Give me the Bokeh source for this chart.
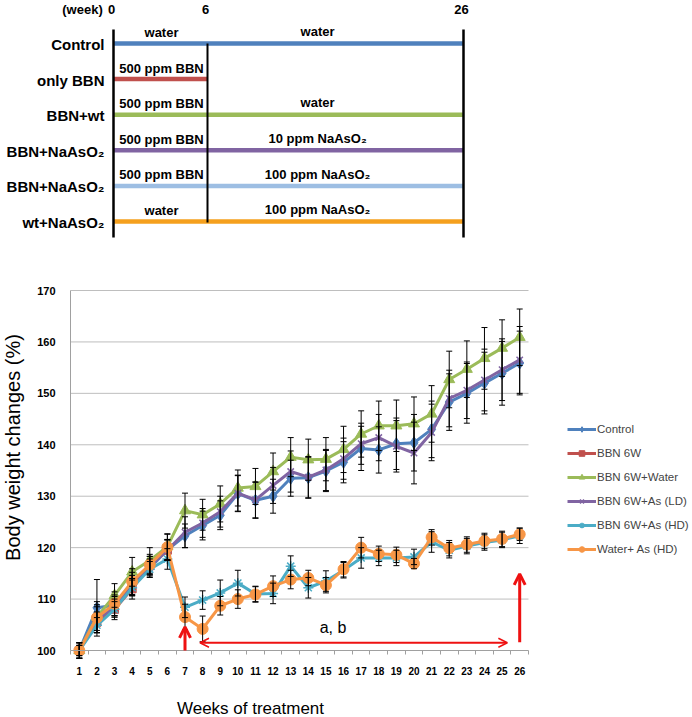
import math
from bokeh.plotting import figure
from bokeh.models import (Range1d, FixedTicker, ColumnDataSource, Whisker, TeeHead,
                          Arrow, OpenHead, Label, Legend, LegendItem)
from bokeh.core.properties import value
from bokeh.embed import file_html
from bokeh.resources import INLINE

# ---------------- data: study design schematic ----------------
groups = ["Control", "only BBN", "BBN+wt", "BBN+NaAsO\u2082", "BBN+NaAsO\u2082", "wt+NaAsO\u2082"]
group_colors = ["#4F81BD", "#C0504D", "#9BBB59", "#8064A2", "#9DBEE3", "#F5A01E"]
phase1_text = ["water", "500 ppm BBN", "500 ppm BBN", "500 ppm BBN", "500 ppm BBN", "water"]
phase2_text = ["water", "", "water", "10 ppm NaAsO\u2082", "100 ppm NaAsO\u2082", "100 ppm NaAsO\u2082"]
treat_end = [26, 6, 26, 26, 26, 26]
week_marks = [0, 6, 26]
week_mark_labels = ["0", "6", "26"]

# ---------------- data: body weight chart ----------------
weeks = list(range(1, 27))
week_labels = [str(w) for w in weeks]
y_ticks = [100, 110, 120, 130, 140, 150, 160, 170]

control = [100, 108.3, 108.8, 112.6, 116.0, 119.6, 122.3, 124.3, 126.3, 130.5, 129.2, 130.0, 133.5,
           133.6, 134.9, 136.6, 139.3, 139.0, 140.2, 140.4, 143.0, 148.3, 150.0, 152.0, 153.9, 155.9]
control_err = [1.5, 5.5, 2.0, 2.0, 1.8, 2.0, 2.3, 2.8, 2.8, 3.5, 3.5, 3.3, 3.5, 4.0, 4.0, 4.0, 4.3,
               4.5, 5.0, 5.5, 5.5, 5.5, 5.8, 6.0, 6.2, 6.2]
bbn6w = [100, 105.5, 108.0, 112.0, 116.5, 119.5]
bbn6w_err = [1.5, 2.0, 2.0, 2.0, 1.8, 2.0]
bbn_water = [100, 106.5, 110.7, 115.3, 117.5, 120.2, 127.2, 126.4, 128.5, 131.6, 131.9, 134.8, 137.6,
             137.1, 137.2, 139.1, 142.1, 143.7, 143.7, 144.1, 146.0, 152.7, 154.7, 156.8, 158.8, 160.9]
bbn_water_err = [1.5, 3.0, 2.3, 2.8, 2.5, 2.5, 3.4, 3.0, 3.5, 3.5, 3.5, 3.6, 3.8, 4.0, 4.2, 4.5, 4.5,
                 4.8, 5.0, 5.2, 5.5, 5.5, 5.5, 6.0, 5.5, 5.5]
bbn_as_ld = [100, 106.0, 108.5, 113.0, 116.5, 119.5, 123.0, 124.8, 127.0, 130.6, 129.3, 132.1, 134.8,
             133.7, 135.1, 137.3, 140.2, 141.4, 139.7, 138.4, 142.4, 149.0, 150.6, 152.6, 154.6, 156.5]
bbn_as_ld_err = [1.5, 2.5, 2.0, 2.2, 1.8, 2.0, 3.0, 2.8, 3.0, 3.5, 3.5, 3.5, 4.0, 4.0, 4.0, 4.0, 4.0,
                 4.5, 5.0, 6.0, 5.5, 5.5, 5.5, 6.0, 6.0, 6.5]
bbn_as_hd = [100, 104.9, 108.0, 112.2, 115.8, 117.8, 108.4, 109.8, 111.2, 113.1, 111.0, 111.1, 116.4,
             112.2, 113.5, 115.6, 118.0, 118.0, 118.0, 118.2, 121.1, 119.5, 120.3, 121.0, 121.5, 122.3]
bbn_as_hd_err = [1.0, 1.5, 1.5, 1.5, 1.5, 2.0, 2.0, 1.8, 2.5, 2.5, 1.5, 2.0, 2.0, 2.0, 2.0, 1.5, 2.0,
                 1.5, 1.5, 1.5, 2.0, 1.5, 1.5, 1.5, 1.5, 1.5]
water_as_hd = [100, 106.4, 109.1, 113.4, 116.7, 120.1, 106.5, 104.2, 108.7, 110.0, 110.9, 112.5, 113.8,
               114.1, 112.7, 115.8, 120.0, 118.8, 118.6, 116.9, 122.0, 119.9, 120.6, 121.3, 121.7, 122.6]
water_as_hd_err = [1.0, 2.5, 2.3, 2.5, 2.0, 2.5, 2.5, 2.5, 1.8, 1.8, 1.5, 2.0, 1.8, 1.5, 1.5, 1.5, 2.0,
                   1.5, 1.5, 1.0, 1.5, 1.5, 1.5, 1.5, 1.5, 1.2]

series_names = ["Control", "BBN 6W", "BBN 6W+Water", "BBN 6W+As (LD)", "BBN 6W+As (HD)", "Water+ As (HD)"]
series_values = [control, bbn6w, bbn_water, bbn_as_ld, bbn_as_hd, water_as_hd]
series_errors = [control_err, bbn6w_err, bbn_water_err, bbn_as_ld_err, bbn_as_hd_err, water_as_hd_err]
series_colors = ["#4F81BD", "#C0504D", "#9BBB59", "#8064A2", "#4BACC6", "#F79646"]
series_markers = ["diamond", "square", "triangle", "x", "asterisk", "circle"]
series_msize = [12, 8, 11, 9, 10, 11]

# arrows / annotation
mark_arrow_week = [7, 26]
mark_arrow_from = [100.0, 101.6]
mark_arrow_to = [104.6, 114.9]
span_arrow_weeks = [7.85, 25.3]
span_arrow_level = 101.5
span_text = "a, b"
span_text_pos = (15.4, 104.4)

SANS = "Liberation Sans"

# ---------------- top figure: schematic ----------------
def sx(w):
    # schematic (not to scale) position of a week on the time bar
    if w <= 6:
        return 113 + w * (207 - 113) / 6
    return 207 + (w - 6) * (463 - 207) / 20

ROW0, ROWH, TOPH = 43.0, 35.6, 245
top = figure(width=692, height=TOPH, x_range=Range1d(0, 692),
             y_range=Range1d((TOPH - ROW0) / ROWH, -ROW0 / ROWH),
             output_backend="svg", toolbar_location=None, min_border=0)
top.axis.visible = False
top.grid.visible = False
top.outline_line_color = None

rows = list(range(len(groups)))
top.segment(x0=[sx(0)] * len(rows), x1=[sx(e) for e in treat_end], y0=rows, y1=rows,
            line_color=group_colors, line_width=4.5)
top.segment(x0=[sx(0), sx(26)], x1=[sx(0), sx(26)], y0=[-0.39, -0.39], y1=[5.45, 5.45],
            line_color="black", line_width=2.5)
top.segment(x0=[sx(6)], x1=[sx(6)], y0=[0], y1=[5.03], line_color="black", line_width=2)

top.text(x=[sx(0) - 9] * len(rows), y=[r + 0.03 for r in rows], text=groups, text_align="right",
         text_baseline="middle", text_font=value(SANS), text_font_style="bold",
         text_font_size="15px", text_color="black")
p1x = [(sx(0) + sx(6)) / 2 + 1] * len(rows)
top.text(x=p1x, y=[r - 0.31 for r in rows], text=phase1_text, text_align="center",
         text_baseline="middle", text_font=value(SANS), text_font_style="bold",
         text_font_size="13px", text_color="black")
p2x = [sx(6) + 0.43 * (sx(26) - sx(6))] * len(rows)
top.text(x=p2x, y=[r - 0.33 for r in rows], text=phase2_text, text_align="center",
         text_baseline="middle", text_font=value(SANS), text_font_style="bold",
         text_font_size="13px", text_color="black")
top.text(x=[sx(w) - 2 for w in week_marks], y=[-0.955] * 3, text=week_mark_labels, text_align="center",
         text_baseline="middle", text_font=value(SANS), text_font_style="bold",
         text_font_size="13px", text_color="black")
top.text(x=[sx(0) - 31], y=[-0.955], text=["(week)"], text_align="center", text_baseline="middle",
         text_font=value(SANS), text_font_style="bold", text_font_size="13px", text_color="black")

# ---------------- bottom figure: chart ----------------
X0, X1 = 0.5, 26.5
Y0, Y1 = 100, 170
week_px = (528 - 70) / (X1 - X0)
unit_px = (650 - 290) / (Y1 - Y0)
FRAME_TOP = 275
x_start = X0 - 70 / week_px              # frame extends under the value labels / title
x_end = X1 + (692 - 528) / week_px       # frame extends under the legend area
y_start = Y0 - (717 - 650) / unit_px     # frame extends under the category labels
y_end = Y1 + (290 - FRAME_TOP) / unit_px # room above the top value label
p = figure(width=692, height=717 - TOPH, x_range=Range1d(x_start, x_end), y_range=Range1d(y_start, y_end),
           output_backend="svg", toolbar_location=None,
           min_border_left=0, min_border_right=0, min_border_top=FRAME_TOP - TOPH, min_border_bottom=0)
p.outline_line_color = None
p.xgrid.grid_line_color = None
p.ygrid.grid_line_color = None
p.segment(x0=[X0] * (len(y_ticks) - 1), x1=[X1] * (len(y_ticks) - 1), y0=y_ticks[1:], y1=y_ticks[1:],
          line_color="#BEBEBE", line_width=1)

p.yaxis.fixed_location = X0
p.yaxis.bounds = (Y0, Y1)
p.yaxis.ticker = FixedTicker(ticks=y_ticks)
p.yaxis.axis_line_color = "#A0A0A0"
p.yaxis.major_tick_line_color = None
p.yaxis.minor_tick_line_color = None
p.yaxis.major_tick_out = 0
p.yaxis.major_tick_in = 0
p.yaxis.major_label_standoff = 15
p.yaxis.major_label_text_font = SANS
p.yaxis.major_label_text_font_style = "bold"
p.yaxis.major_label_text_font_size = "11px"
p.yaxis.major_label_text_color = "black"

p.xaxis.fixed_location = Y0
p.xaxis.bounds = (X0, X1)
p.xaxis.ticker = FixedTicker(ticks=weeks, minor_ticks=[w - 0.5 for w in weeks] + [X1])
p.xaxis.major_label_overrides = {w: l for w, l in zip(weeks, week_labels)}
p.xaxis.axis_line_color = "#A0A0A0"
p.xaxis.major_tick_line_color = None
p.xaxis.major_tick_out = 0
p.xaxis.major_tick_in = 0
p.xaxis.minor_tick_line_color = "#A0A0A0"
p.xaxis.minor_tick_out = 4
p.xaxis.minor_tick_in = 0
p.xaxis.major_label_standoff = 12
p.xaxis.major_label_text_font = SANS
p.xaxis.major_label_text_font_style = "bold"
p.xaxis.major_label_text_font_size = "10px"
p.xaxis.major_label_text_color = "black"

# axis titles inside the extended frame
p.add_layout(Label(x=X0 + (250 - 70) / week_px, y=Y0 - (708 - 650) / unit_px,
                   text="Weeks of treatment", text_align="center", text_baseline="middle",
                   text_font=SANS, text_font_size="17px", text_color="black"))
p.add_layout(Label(x=X0 - (70 - 12) / week_px, y=Y0 + (650 - 447) / unit_px, angle=math.pi / 2,
                   text="Body weight changes (%)", text_align="center", text_baseline="middle",
                   text_font=SANS, text_font_size="20px", text_color="black"))

items = []
for name, vals, errs, col, mk, ms in zip(series_names, series_values, series_errors,
                                          series_colors, series_markers, series_msize):
    xs = weeks[:len(vals)]
    src = ColumnDataSource(dict(x=xs, y=vals,
                                upper=[v + e for v, e in zip(vals, errs)],
                                lower=[v - e for v, e in zip(vals, errs)]))
    lr = p.line("x", "y", source=src, line_color=col, line_width=3)
    if mk in ("x", "asterisk"):
        sr = p.scatter("x", "y", source=src, marker=mk, size=ms, line_color=col, line_width=1.5)
    else:
        sr = p.scatter("x", "y", source=src, marker=mk, size=ms, fill_color=col, line_color=col)
    items.append(LegendItem(label=name, renderers=[lr, sr]))
    w = Whisker(source=src, base="x", upper="upper", lower="lower", dimension="height",
                line_color="black", line_width=1, level="glyph",
                upper_head=TeeHead(size=6, line_color="black", line_width=1),
                lower_head=TeeHead(size=6, line_color="black", line_width=1))
    p.add_layout(w)

legend = Legend(items=items, location=(567, 94 + (717 - 650)), orientation="vertical")
legend.border_line_color = None
legend.background_fill_alpha = 0
legend.label_text_font = SANS
legend.label_text_font_size = "11.5px"
legend.glyph_width = 29
legend.glyph_height = 14
legend.label_height = 14
legend.spacing = 10
legend.padding = 0
legend.margin = 0
legend.label_standoff = 1
p.add_layout(legend)

for wk, y0, y1 in zip(mark_arrow_week, mark_arrow_from, mark_arrow_to):
    p.add_layout(Arrow(x_start=wk, y_start=y0, x_end=wk, y_end=y1, line_color="#EE1111", line_width=3,
                       end=OpenHead(size=11, line_color="#EE1111", line_width=3)))
p.add_layout(Arrow(x_start=span_arrow_weeks[0], y_start=span_arrow_level, x_end=span_arrow_weeks[1],
                   y_end=span_arrow_level, line_color="#EE1111", line_width=2,
                   start=OpenHead(size=9, line_color="#EE1111", line_width=1.5),
                   end=OpenHead(size=9, line_color="#EE1111", line_width=1.5)))
p.add_layout(Label(x=span_text_pos[0], y=span_text_pos[1], text=span_text, text_align="center",
                   text_baseline="middle", text_font=SANS, text_font_size="16px", text_color="black"))

open("out.html", "w").write(file_html([top, p], INLINE))
